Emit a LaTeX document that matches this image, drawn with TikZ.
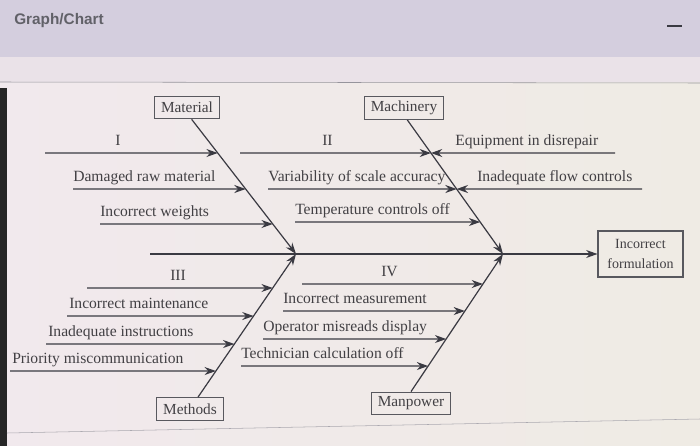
\documentclass[tikz,border=0pt]{standalone}
\usepackage{fontspec}
\setmainfont{Liberation Serif}
\newfontfamily\headfont{Liberation Sans}
\usepackage{xcolor}
\usepackage{tikz}
\usetikzlibrary{arrows.meta, calc}
\definecolor{ink}{RGB}{58,58,66}
\definecolor{txt}{RGB}{66,64,68}
\definecolor{hdr}{RGB}{212,206,222}
\definecolor{band}{RGB}{234,226,232}
\definecolor{paperl}{RGB}{241,233,237}
\definecolor{paperr}{RGB}{239,235,228}
\definecolor{rulegray}{RGB}{150,148,156}

\begin{document}
\begin{tikzpicture}[x=0.75pt, y=-0.75pt, font=\fontsize{11.7}{14}\selectfont,
  bone/.style={ink, line width=0.9pt, -{Stealth[length=8.5pt, width=6pt]}},
  cat/.style={draw=ink!85, line width=0.8pt, text=txt, inner xsep=5pt,
    minimum height=17pt, font=\fontsize{11.5}{13}\selectfont},
  lbl/.style={text=txt, inner sep=0pt, anchor=base west}]
  \useasboundingbox (0,0) rectangle (700,446);
  \shade[left color=paperl, right color=paperr] (0,0) rectangle (700,446);
  \fill[hdr] (0,0) rectangle (700,57);
  \fill[band] (0,57) rectangle (700,82);
  \draw[rulegray] (0,82) -- (700,83);
  \fill[black!85] (0,88) rectangle (7,446);
  \draw[rulegray!80] (7,433) -- (700,419);
  \node[text=ink!80, font=\headfont\bfseries\fontsize{11.5}{14}\selectfont] (title) at (59,21) {Graph/Chart};
  \draw[ink, line width=2.2pt] (667,26) -- (682,26);

  % head and spine
  \node[cat] (mat) at (187,107.5) {Material};
  \node[cat] (mach) at (404,108) {Machinery};
  \node[cat] (meth) at (190,409) {Methods};
  \node[cat] (manp) at (411,403.5) {Manpower};
  \node[draw=ink!85, line width=0.8pt, text=txt, align=center,
    minimum width=63.75pt, minimum height=34.5pt,
    font=\fontsize{10.5}{15}\selectfont] (eff) at (640.5,254) {Incorrect\\formulation};
  \coordinate (tail) at (150,254);
  \coordinate (j1) at (296,254);
  \coordinate (j2) at (503,254);
  \draw[bone] (tail) -- (eff.west);

  \coordinate (b1) at ([xshift=3.5pt]mat.south);
  \coordinate (b2) at ([xshift=2.5pt]mach.south);
  \coordinate (b3) at ([xshift=6pt]meth.north);
  \coordinate (b4) at (manp.north);
  \draw[bone] (b1) -- (j1);
  \draw[bone] (b2) -- (j2);
  \draw[bone] (b3) -- (j1);
  \draw[bone] (b4) -- (j2);

  % causes
  \foreach \i/\y/\xs/\lx/\lab in {1/153/45/115/I,
                                 2/189/73/73/Damaged raw material,
                                 3/224/100/100/Incorrect weights}{
    \coordinate (ma\i) at (\xs,\y);
    \coordinate (mh\i) at (\xs+10,\y);
    \coordinate (mt\i) at (intersection of b1--j1 and ma\i--mh\i);
    \draw[bone] (ma\i) -- (mt\i);
    \node[lbl] (ml\i) at (\lx,\y-7.5) {\lab};
  }
  \foreach \i/\y/\xs/\lx/\lab in {1/153/240/322/II,
                                 2/189/268/268/Variability of scale accuracy,
                                 3/222/295/295/Temperature controls off,
                                 4/153/615/455/Equipment in disrepair,
                                 5/189/642/477/Inadequate flow controls}{
    \coordinate (ka\i) at (\xs,\y);
    \coordinate (kh\i) at (\xs+10,\y);
    \coordinate (kt\i) at (intersection of b2--j2 and ka\i--kh\i);
    \draw[bone] (ka\i) -- (kt\i);
    \node[lbl] (kl\i) at (\lx,\y-7.5) {\lab};
  }
  \foreach \i/\y/\xs/\lx/\lab in {1/288/87/170/III,
                                 2/316/67/69/Incorrect maintenance,
                                 3/344/46/48/Inadequate instructions,
                                 4/371/10/12/Priority miscommunication}{
    \coordinate (da\i) at (\xs,\y);
    \coordinate (dh\i) at (\xs+10,\y);
    \coordinate (dt\i) at (intersection of b3--j1 and da\i--dh\i);
    \draw[bone] (da\i) -- (dt\i);
    \node[lbl] (dl\i) at (\lx,\y-7.5) {\lab};
  }
  \foreach \i/\y/\xs/\lx/\lab in {1/284/302/381/IV,
                                 2/311/283/283/Incorrect measurement,
                                 3/339/263/263/Operator misreads display,
                                 4/366/241/241/Technician calculation off}{
    \coordinate (pa\i) at (\xs,\y);
    \coordinate (ph\i) at (\xs+10,\y);
    \coordinate (pt\i) at (intersection of b4--j2 and pa\i--ph\i);
    \draw[bone] (pa\i) -- (pt\i);
    \node[lbl] (pl\i) at (\lx,\y-7.5) {\lab};
  }
\end{tikzpicture}
\end{document}
